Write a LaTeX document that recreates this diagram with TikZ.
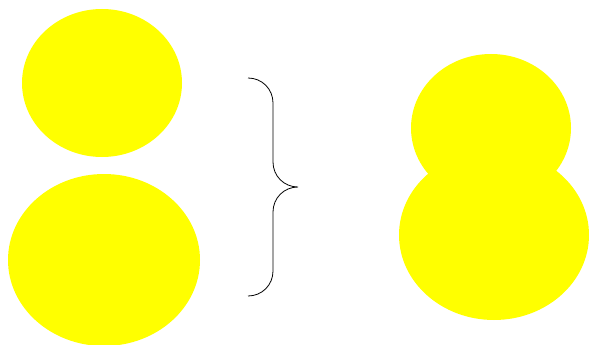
\documentclass[tikz,border=0pt]{standalone}
\usetikzlibrary{shapes.geometric}
\definecolor{pureyellow}{RGB}{255,255,0}
\begin{document}
\begin{tikzpicture}[x=1pt,y=-1pt,
  blob/.style={ellipse,fill=pureyellow,draw=none,inner sep=0pt}]
\useasboundingbox (0,0) rectangle (589,345);
\node[blob,minimum width=160pt,minimum height=148pt] (tl) at (102,83) {};
\node[blob,minimum width=192pt,minimum height=172pt] (bl) at (104,260) {};
\node[blob,minimum width=190pt,minimum height=170pt] (br) at (494,235) {};
\node[blob,minimum width=160pt,minimum height=148pt] (tr) at (491,128) {};
\coordinate (b1) at (248,78);
\coordinate (b2) at (298,187);
\coordinate (b3) at (248,296);
\draw[black,line width=0.8pt] (b1) .. controls (262,78) and (273,89) .. (273,103)
  -- (273,162) .. controls (273,176) and (284,187) .. (b2)
  .. controls (284,187) and (273,198) .. (273,212)
  -- (273,271) .. controls (273,285) and (262,296) .. (b3);
\end{tikzpicture}
\end{document}
